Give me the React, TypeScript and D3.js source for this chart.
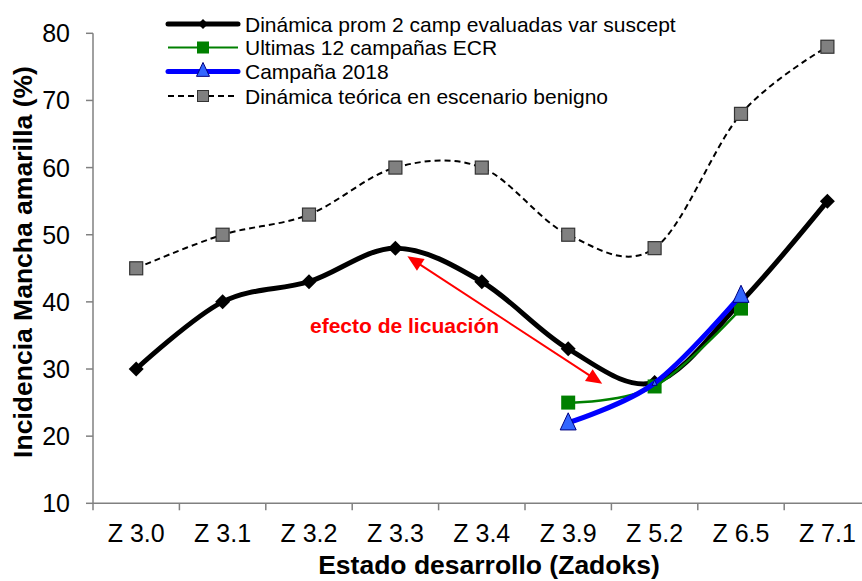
import React from "react";
import * as d3 from "d3";

const categories = ["Z 3.0", "Z 3.1", "Z 3.2", "Z 3.3", "Z 3.4", "Z 3.9", "Z 5.2", "Z 6.5", "Z 7.1"];
const dinamicaProm = [30, 40, 43, 48, 43, 33, 28, 40, 55];
const ultimas12 = [null, null, null, null, null, 25, 27.4, 39, null];
const campana2018 = [null, null, null, null, null, 22, 27.9, 41, null];
const teorica = [45, 50, 53, 60, 60, 50, 48, 68, 78];
const yTicks = [10, 20, 30, 40, 50, 60, 70, 80];

const legendLabels = [
  "Dinámica prom 2 camp evaluadas var suscept",
  "Ultimas 12 campañas ECR",
  "Campaña 2018",
  "Dinámica teórica en escenario benigno",
];

const W = 862;
const H = 581;
const FONT = "Arial, 'Liberation Sans', sans-serif";

export default function App() {
  const x = d3.scaleBand<string>().domain(categories).range([93, 870.6]).padding(0);
  const y = d3.scaleLinear().domain([10, 80]).range([503.3, 33.3]);
  const cx = (c: string) => (x(c) as number) + x.bandwidth() / 2;

  const mkLine = (vals: (number | null)[]) => {
    const pts = vals
      .map((v, i) => (v == null ? null : ([cx(categories[i]), y(v), i] as [number, number, number])))
      .filter((p) => p != null) as [number, number, number][];
    const gen = d3.line().curve(d3.curveCardinal.tension(0));
    return { pts, d: gen(pts.map((p) => [p[0], p[1]] as [number, number])) as string };
  };

  const black = mkLine(dinamicaProm);
  const green = mkLine(ultimas12);
  const blue = mkLine(campana2018);
  const dash = mkLine(teorica);

  const diamond = (px: number, py: number, r: number) =>
    `M${px},${py - r}L${px + r},${py}L${px},${py + r}L${px - r},${py}Z`;
  const tri = (px: number, py: number, s: number) =>
    `M${px},${py - s * 0.62}L${px + s / 2},${py + s * 0.45}L${px - s / 2},${py + s * 0.45}Z`;

  // annotation arrow in data coordinates
  const a1: [number, number] = [cx("Z 3.3") + 12, y(46.8)];
  const a2: [number, number] = [cx("Z 3.9") + 34, y(27.8)];
  const ang = Math.atan2(a2[1] - a1[1], a2[0] - a1[0]);
  const head = (p: [number, number], dir: number) => {
    const L = 16, Wd = 7;
    const bx = p[0] - Math.cos(dir) * L;
    const by = p[1] - Math.sin(dir) * L;
    const nx = -Math.sin(dir) * Wd;
    const ny = Math.cos(dir) * Wd;
    return `M${p[0]},${p[1]}L${bx + nx},${by + ny}L${bx - nx},${by - ny}Z`;
  };
  const inset = 12;
  const l1: [number, number] = [a1[0] + Math.cos(ang) * inset, a1[1] + Math.sin(ang) * inset];
  const l2: [number, number] = [a2[0] - Math.cos(ang) * inset, a2[1] - Math.sin(ang) * inset];

  const axisColor = "#808080";
  const legendRows = [24, 47.5, 71.5, 96];

  return (
    <svg width={W} height={H} style={{ position: "absolute", left: 0, top: 0, background: "#fff" }} fontFamily={FONT}>
      {/* axes */}
      <line x1={93} y1={y(80)} x2={93} y2={y(10)} stroke={axisColor} strokeWidth={1.5} />
      <line x1={93} y1={y(10)} x2={870} y2={y(10)} stroke={axisColor} strokeWidth={1.5} />
      {yTicks.map((t) => (
        <g key={t}>
          <line x1={86} x2={93} y1={y(t)} y2={y(t)} stroke={axisColor} strokeWidth={1.5} />
          <text x={70} y={y(t)} dy="0.36em" textAnchor="end" fontSize={25} fill="#000">
            {t}
          </text>
        </g>
      ))}
      {categories.map((c) => (
        <g key={c}>
          <line x1={x(c) as number} x2={x(c) as number} y1={y(10)} y2={y(10) + 7} stroke={axisColor} strokeWidth={1.5} />
          <text x={cx(c)} y={542} textAnchor="middle" fontSize={25} fill="#000">
            {c}
          </text>
        </g>
      ))}
      <line x1={870.6} x2={870.6} y1={y(10)} y2={y(10) + 7} stroke={axisColor} strokeWidth={1.5} />

      <text x={489} y={574} textAnchor="middle" fontSize={26.5} fontWeight="bold" fill="#000">
        Estado desarrollo (Zadoks)
      </text>
      <text
        transform={`translate(32,262) rotate(-90)`}
        textAnchor="middle"
        fontSize={26.5}
        fontWeight="bold"
        fill="#000"
      >
        Incidencia Mancha amarilla (%)
      </text>

      {/* dashed theoretical */}
      <path d={dash.d} fill="none" stroke="#000" strokeWidth={2} strokeDasharray="6,4" />
      {/* black */}
      <path d={black.d} fill="none" stroke="#000" strokeWidth={5} />
      {black.pts.map((p, i) => (
        <path key={"b" + i} d={diamond(p[0], p[1], 7.5)} fill="#000" />
      ))}
      {dash.pts.map((p, i) => (
        <rect key={"d" + i} x={p[0] - 6.5} y={p[1] - 6.5} width={13} height={13} fill="#808080" stroke="#333" strokeWidth={1.2} />
      ))}
      {/* green */}
      <path d={green.d} fill="none" stroke="#008000" strokeWidth={2.5} />
      {green.pts.map((p, i) => (
        <rect key={"g" + i} x={p[0] - 7} y={p[1] - 7} width={14} height={14} fill="#008000" />
      ))}
      {/* blue */}
      <path d={blue.d} fill="none" stroke="#0000FF" strokeWidth={5} />
      {blue.pts.map((p, i) => (
        <path
          key={"t" + i}
          d={tri(p[0], p[1], categories[p[2]] === "Z 5.2" ? 5 : 16)}
          fill="#3366FF"
          stroke="#000080"
          strokeWidth={1}
        />
      ))}

      {/* annotation */}
      <line x1={l1[0]} y1={l1[1]} x2={l2[0]} y2={l2[1]} stroke="#FF0000" strokeWidth={2} />
      <path d={head(a1, ang + Math.PI)} fill="#FF0000" />
      <path d={head(a2, ang)} fill="#FF0000" />
      <text x={310} y={333} fontSize={21} fontWeight="bold" fill="#FF0000">
        efecto de licuación
      </text>

      {/* legend */}
      <g>
        <line x1={168} x2={238} y1={legendRows[0]} y2={legendRows[0]} stroke="#000" strokeWidth={5} strokeLinecap="round" />
        <path d={diamond(203, legendRows[0], 5)} fill="#000" />
        <line x1={168} x2={238} y1={legendRows[1]} y2={legendRows[1]} stroke="#008000" strokeWidth={2} />
        <rect x={197} y={legendRows[1] - 6} width={12} height={12} fill="#008000" />
        <line x1={168} x2={238} y1={legendRows[2]} y2={legendRows[2]} stroke="#0000FF" strokeWidth={5} strokeLinecap="round" />
        <path d={tri(203, legendRows[2] - 1, 13)} fill="#3366FF" stroke="#000080" strokeWidth={1} />
        <line x1={168} x2={238} y1={legendRows[3]} y2={legendRows[3]} stroke="#000" strokeWidth={2} strokeDasharray="6,4" />
        <rect x={197.5} y={legendRows[3] - 5.5} width={11} height={11} fill="#808080" stroke="#333" strokeWidth={1} />
        {legendLabels.map((l, i) => (
          <text key={l} x={245} y={legendRows[i]} dy="0.36em" fontSize={21} fill="#000">
            {l}
          </text>
        ))}
      </g>
    </svg>
  );
}
